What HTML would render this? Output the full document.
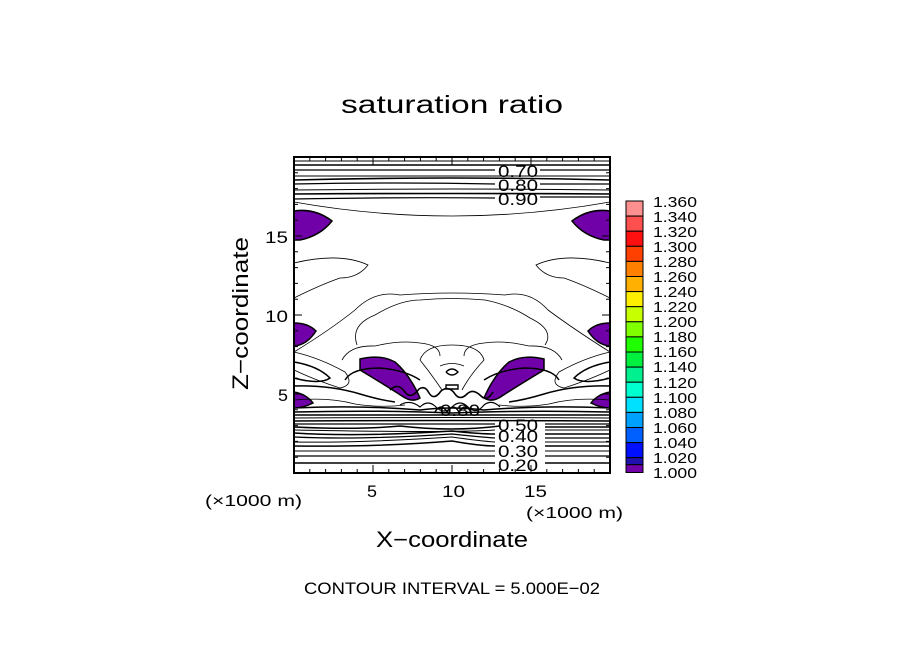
<!DOCTYPE html>
<html><head><meta charset="utf-8"><style>
html,body{margin:0;padding:0;background:#fff;}
svg{display:block}
text{font-family:"Liberation Sans",sans-serif;fill:#000}
</style></head><body>
<svg width="904" height="654" viewBox="0 0 904 654" xmlns="http://www.w3.org/2000/svg">
<rect width="904" height="654" fill="#fff"/>
<text x="341" y="113" font-size="25" textLength="222" lengthAdjust="spacingAndGlyphs">saturation ratio</text>

<!-- purple regions -->
<g fill="#7000a8" stroke="#000" stroke-width="1.5">
<path d="M294,211 Q315,208 332,221 Q320,236 300,240 L294,240 Z"/>
<path d="M610,211 Q589,208 572,221 Q584,236 604,240 L610,240 Z"/>
<path d="M294,323 Q308,323 316,331 Q307,345 294,346 Z"/>
<path d="M610,323 Q596,323 588,331 Q597,345 610,346 Z"/>
<path d="M294,392 Q306,394 313,403 Q303,408 294,408 Z"/>
<path d="M610,392 Q598,394 591,403 Q601,408 610,408 Z"/>
<path d="M360,359 Q380,354 395,362 Q410,375 420,398 Q412,403 402,396 Q385,385 360,370 Z"/>
<path d="M544,359 Q524,354 509,362 Q494,375 484,398 Q492,403 502,396 Q519,385 544,370 Z"/>
</g>

<!-- contours -->
<g fill="none" stroke="#000">
<path d="M294,161 H610" stroke-width="1"/>
<path d="M294,165 H610" stroke-width="1.6"/>
<path d="M294,170 H495 M540,170 H610" stroke-width="1.2"/>
<path d="M294,176 H610" stroke-width="1"/>
<path d="M294,180 Q452,176 610,180" stroke-width="1.6"/>
<path d="M294,184 Q400,182 495,184 M540,184 H610" stroke-width="1.2"/>
<path d="M294,190 Q452,188 610,190" stroke-width="1"/>
<path d="M294,194 Q452,193 610,194" stroke-width="1.6"/>
<path d="M294,199 Q400,197 495,198 M540,197 H610" stroke-width="1.2"/>
<path d="M294,202 Q452,230 610,202" stroke-width="0.8"/>
<path d="M294,263 Q340,252 368,265 Q358,278 340,278 Q320,285 294,298" stroke-width="0.8"/>
<path d="M610,263 Q564,252 536,265 Q546,278 564,278 Q584,285 610,298" stroke-width="0.8"/>
<path d="M294,352 Q330,330 355,310 Q375,290 400,295 Q452,291 505,295 Q530,290 548,310 Q575,330 610,352" stroke-width="0.8"/>
<path d="M357,345 Q350,325 375,315 Q400,300 420,300 Q452,297 485,300 Q510,305 530,318 Q555,330 545,345" stroke-width="0.8"/>
<path d="M342,360 Q350,345 375,346 Q400,340 420,343 Q440,345 440,356" stroke-width="0.8"/>
<path d="M562,360 Q554,345 529,346 Q504,340 484,343 Q464,345 464,356" stroke-width="0.8"/>
<path d="M420,360 Q425,345 452,345 Q480,345 484,360 Q470,375 462,390 M442,390 Q432,375 420,360" stroke-width="0.8"/>
<path d="M294,352 Q320,358 345,372 Q355,385 340,388 Q315,380 294,370" stroke-width="0.8"/>
<path d="M294,362 Q318,366 330,378 Q320,385 294,378" stroke-width="1.5"/>
<path d="M610,352 Q584,358 559,372 Q549,385 564,388 Q589,380 610,370" stroke-width="0.8"/>
<path d="M610,362 Q586,366 574,378 Q584,385 610,378" stroke-width="1.5"/>
<path d="M294,386 Q330,385 360,394 Q380,400 395,402" stroke-width="1.5"/>
<path d="M610,386 Q574,385 544,394 Q524,400 509,402" stroke-width="1.5"/>
<path d="M294,400 Q330,397 355,404 Q380,408 405,405" stroke-width="0.8"/>
<path d="M610,400 Q574,397 549,404 Q524,408 499,405" stroke-width="0.8"/>
<path d="M345,380 Q352,368 380,368 Q405,370 420,380 M484,380 Q499,370 524,368 Q552,368 559,380" stroke-width="1.5"/>
<path d="M390,390 q8,-8 15,2 q6,8 14,-3 q6,-4 10,4 q5,8 12,-2 q8,-6 14,3 q5,7 12,0 q6,-6 14,2 q6,6 12,-4" stroke-width="1.6"/>
<path d="M400,405 q10,-6 20,2 q8,-8 16,0 q8,8 16,0 q8,-8 16,0 q8,8 16,-2 q8,-6 16,2" stroke-width="1.2"/>
<path d="M435,412 q6,-10 12,0 q6,-10 12,0 q6,-10 12,0" stroke-width="1.4"/>
<path d="M446,372 q6,-6 12,0 q-6,6 -12,0 M446,385 h12 v4 h-12 z" stroke-width="1.4"/>
<path d="M440,366 q12,-5 24,0" stroke-width="0.8"/>
<path d="M294,408 Q360,405 420,410 Q452,406 484,410 Q544,405 610,408" stroke-width="1.5"/>
<path d="M294,412 Q380,410 452,413 Q524,410 610,412" stroke-width="1.5"/>
<path d="M294,415 H610" stroke-width="1.5"/>
<path d="M294,418 Q452,417 610,418" stroke-width="1"/>
<path d="M294,421 Q452,420 610,421" stroke-width="1.5"/>
<path d="M294,424 H495 M545,424 H610" stroke-width="1.2"/>
<path d="M294,427 Q360,430 400,426 Q452,432 500,426 M545,427 H610" stroke-width="1.5"/>
<path d="M294,430 Q452,433 495,430 M545,430 H610" stroke-width="1"/>
<path d="M294,433 Q360,437 452,431 Q480,434 495,434 M545,434 H610" stroke-width="1.5"/>
<path d="M294,437 Q360,440 452,434 Q480,437 495,438 M545,438 H610" stroke-width="1.2"/>
<path d="M294,442 Q360,443 452,437 Q480,441 495,442 M545,442 H610" stroke-width="1"/>
<path d="M294,446 Q380,447 452,441 Q480,446 495,446 M545,446 H610" stroke-width="1.5"/>
<path d="M294,451 H495 M545,451 H610" stroke-width="1"/>
<path d="M294,456 H495 M545,456 H610" stroke-width="1.2"/>
<path d="M294,463 H495 M545,463 H610" stroke-width="1.6"/>
</g>
<g font-size="17">
<text x="498" y="177" textLength="40" lengthAdjust="spacingAndGlyphs">0.70</text>
<text x="498" y="191" textLength="40" lengthAdjust="spacingAndGlyphs">0.80</text>
<text x="498" y="205" textLength="40" lengthAdjust="spacingAndGlyphs">0.90</text>
<text x="440" y="416" textLength="40" lengthAdjust="spacingAndGlyphs">0.80</text>
<text x="498" y="431" textLength="40" lengthAdjust="spacingAndGlyphs">0.50</text>
<text x="498" y="442" textLength="40" lengthAdjust="spacingAndGlyphs">0.40</text>
<text x="498" y="457" textLength="40" lengthAdjust="spacingAndGlyphs">0.30</text>
<text x="498" y="471" textLength="40" lengthAdjust="spacingAndGlyphs">0.20</text>
</g>

<rect x="294" y="157" width="316" height="316" fill="none" stroke="#000" stroke-width="2"/>
<g stroke="#000" stroke-width="1">
<path d="M309.8,473v-4M325.6,473v-4M341.4,473v-4M357.2,473v-4M388.8,473v-4M404.6,473v-4M420.4,473v-4M436.2,473v-4M467.8,473v-4M483.6,473v-4M499.4,473v-4M515.2,473v-4M546.8,473v-4M562.6,473v-4M578.4,473v-4M594.2,473v-4"/>
<path d="M373,473v-8M452,473v-8M531,473v-8"/>
<path d="M309.8,157v4M325.6,157v4M341.4,157v4M357.2,157v4M388.8,157v4M404.6,157v4M420.4,157v4M436.2,157v4M467.8,157v4M483.6,157v4M499.4,157v4M515.2,157v4M546.8,157v4M562.6,157v4M578.4,157v4M594.2,157v4"/>
<path d="M373,157v8M452,157v8M531,157v8"/>
<path d="M294,457.2h4M294,441.4h4M294,425.6h4M294,409.8h4M294,378.2h4M294,362.4h4M294,346.6h4M294,330.8h4M294,299.2h4M294,283.4h4M294,267.6h4M294,251.8h4M294,220.2h4M294,204.4h4M294,188.6h4M294,172.8h4"/>
<path d="M294,394h8M294,315h8M294,236h8"/>
<path d="M610,457.2h-4M610,441.4h-4M610,425.6h-4M610,409.8h-4M610,378.2h-4M610,362.4h-4M610,346.6h-4M610,330.8h-4M610,299.2h-4M610,283.4h-4M610,267.6h-4M610,251.8h-4M610,220.2h-4M610,204.4h-4M610,188.6h-4M610,172.8h-4"/>
<path d="M610,394h-8M610,315h-8M610,236h-8"/>
</g>
<g font-size="17">
<text x="278" y="401" textLength="10" lengthAdjust="spacingAndGlyphs">5</text>
<text x="265" y="322" textLength="23" lengthAdjust="spacingAndGlyphs">10</text>
<text x="265" y="243" textLength="23" lengthAdjust="spacingAndGlyphs">15</text>
<text x="367" y="497" textLength="10" lengthAdjust="spacingAndGlyphs">5</text>
<text x="442" y="497" textLength="23" lengthAdjust="spacingAndGlyphs">10</text>
<text x="524" y="497" textLength="23" lengthAdjust="spacingAndGlyphs">15</text>
</g>
<text x="205" y="506" font-size="16" textLength="97" lengthAdjust="spacingAndGlyphs">(×1000 m)</text>
<text x="526" y="518" font-size="16" textLength="97" lengthAdjust="spacingAndGlyphs">(×1000 m)</text>
<text x="376" y="547" font-size="22" textLength="152" lengthAdjust="spacingAndGlyphs">X−coordinate</text>
<text transform="translate(248,390) rotate(-90)" font-size="22" textLength="153" lengthAdjust="spacingAndGlyphs">Z−coordinate</text>
<text x="304" y="594" font-size="17" textLength="296" lengthAdjust="spacingAndGlyphs">CONTOUR INTERVAL = 5.000E−02</text>

<g stroke="#000" stroke-width="1">
<rect x="626" y="201" width="17" height="15.1" fill="#ff9090"/>
<rect x="626" y="216.1" width="17" height="15.1" fill="#ff5050"/>
<rect x="626" y="231.2" width="17" height="15.1" fill="#ff1010"/>
<rect x="626" y="246.3" width="17" height="15.1" fill="#ff4000"/>
<rect x="626" y="261.4" width="17" height="15.1" fill="#ff8000"/>
<rect x="626" y="276.5" width="17" height="15.1" fill="#ffb000"/>
<rect x="626" y="291.6" width="17" height="15.1" fill="#ffee00"/>
<rect x="626" y="306.7" width="17" height="15.1" fill="#c8ff00"/>
<rect x="626" y="321.8" width="17" height="15.1" fill="#80ff00"/>
<rect x="626" y="336.9" width="17" height="15.1" fill="#20ff00"/>
<rect x="626" y="352" width="17" height="15.1" fill="#00f040"/>
<rect x="626" y="367.1" width="17" height="15.1" fill="#00f090"/>
<rect x="626" y="382.2" width="17" height="15.1" fill="#00ffd0"/>
<rect x="626" y="397.3" width="17" height="15.1" fill="#00e0ff"/>
<rect x="626" y="412.4" width="17" height="15.1" fill="#00a0ff"/>
<rect x="626" y="427.5" width="17" height="15.1" fill="#0060ff"/>
<rect x="626" y="442.6" width="17" height="15.1" fill="#0010ff"/>
<rect x="626" y="457.7" width="17" height="7" fill="#2010b0"/>
<rect x="626" y="464.7" width="17" height="7.8" fill="#7000a8"/>
</g>
<g font-size="15">
<text x="653" y="207" textLength="44" lengthAdjust="spacingAndGlyphs">1.360</text><text x="653" y="222" textLength="44" lengthAdjust="spacingAndGlyphs">1.340</text><text x="653" y="237" textLength="44" lengthAdjust="spacingAndGlyphs">1.320</text>
<text x="653" y="252" textLength="44" lengthAdjust="spacingAndGlyphs">1.300</text><text x="653" y="267" textLength="44" lengthAdjust="spacingAndGlyphs">1.280</text><text x="653" y="282" textLength="44" lengthAdjust="spacingAndGlyphs">1.260</text>
<text x="653" y="297" textLength="44" lengthAdjust="spacingAndGlyphs">1.240</text><text x="653" y="312" textLength="44" lengthAdjust="spacingAndGlyphs">1.220</text><text x="653" y="327" textLength="44" lengthAdjust="spacingAndGlyphs">1.200</text>
<text x="653" y="342" textLength="44" lengthAdjust="spacingAndGlyphs">1.180</text><text x="653" y="357" textLength="44" lengthAdjust="spacingAndGlyphs">1.160</text><text x="653" y="372" textLength="44" lengthAdjust="spacingAndGlyphs">1.140</text>
<text x="653" y="388" textLength="44" lengthAdjust="spacingAndGlyphs">1.120</text><text x="653" y="403" textLength="44" lengthAdjust="spacingAndGlyphs">1.100</text><text x="653" y="418" textLength="44" lengthAdjust="spacingAndGlyphs">1.080</text>
<text x="653" y="433" textLength="44" lengthAdjust="spacingAndGlyphs">1.060</text><text x="653" y="448" textLength="44" lengthAdjust="spacingAndGlyphs">1.040</text><text x="653" y="463" textLength="44" lengthAdjust="spacingAndGlyphs">1.020</text>
<text x="653" y="478" textLength="44" lengthAdjust="spacingAndGlyphs">1.000</text>
</g>
</svg>
</body></html>
